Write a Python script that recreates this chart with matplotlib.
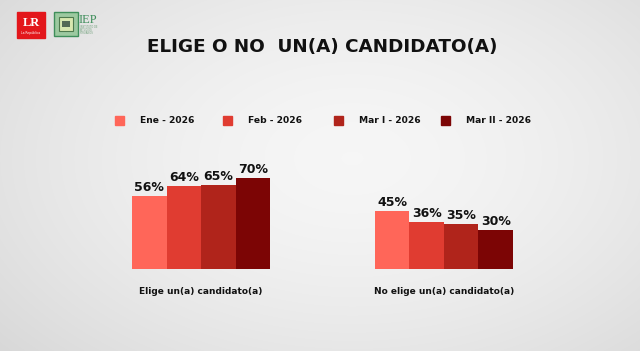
import numpy as np
import matplotlib

matplotlib.use("Agg")
import matplotlib.pyplot as plt
from matplotlib.patches import Rectangle

categories = ["Elige un(a) candidato(a)", "No elige un(a) candidato(a)"]
series = ["Ene - 2026", "Feb - 2026", "Mar I - 2026", "Mar II - 2026"]
values = {
    "Ene - 2026": [56, 45],
    "Feb - 2026": [64, 36],
    "Mar I - 2026": [65, 35],
    "Mar II - 2026": [70, 30],
}
colors = ["#FF6659", "#E03C31", "#B0241B", "#7C0505"]

W, H = 640, 351
fig = plt.figure(figsize=(W / 100, H / 100), dpi=100)

# background: soft radial grey gradient
bg = fig.add_axes([0, 0, 1, 1])
yy, xx = np.mgrid[0:H, 0:W]
r = np.sqrt(((xx - W * 0.55) / (W * 0.7)) ** 2 + ((yy - H * 0.45) / (H * 0.8)) ** 2)
shade = 0.965 - 0.11 * np.clip(r, 0, 1.2) ** 1.6
bg.imshow(np.dstack([shade] * 3), extent=[0, W, H, 0], aspect="auto")
bg.set_xlim(0, W)
bg.set_ylim(H, 0)
bg.set_axis_off()

# logos (rough)
bg.add_patch(Rectangle((17, 12), 28, 26, color="#E3161B"))
bg.text(31, 23, "LR", color="white", fontsize=9, fontweight="bold",
        family="Liberation Serif", ha="center", va="center")
bg.text(31, 33, "La República", color="white", fontsize=2.2, ha="center", va="center")
bg.add_patch(Rectangle((54, 12), 24, 24, facecolor="#9CC9A0", edgecolor="#3E8E5A", lw=1))
bg.add_patch(Rectangle((59, 17), 14, 14, facecolor="#D8E8B0", edgecolor="#4E7A4E", lw=0.8))
bg.add_patch(Rectangle((62, 21), 8, 6, facecolor="#556B55"))
bg.text(79, 20, "IEP", color="#3E8E5A", fontsize=9, family="Liberation Serif",
        ha="left", va="center")
for i, t in enumerate(["INSTITUTO DE", "ESTUDIOS", "PERUANOS"]):
    bg.text(80, 27 + i * 3.2, t, color="#6FA07A", fontsize=1.8, ha="left", va="center")

# title
bg.text(322, 47, "ELIGE O NO  UN(A) CANDIDATO(A)", fontsize=13.2, fontweight="heavy",
        family="DejaVu Sans", color="#111111", ha="center", va="center")

# legend
leg_sq = [119, 227, 338, 445]
for x0, name, c in zip(leg_sq, series, colors):
    bg.add_patch(Rectangle((x0 - 4, 116), 9, 9, color=c))
    bg.text(x0 + 21, 120.5, name, fontsize=6.6, fontweight="bold", color="#111111",
            ha="left", va="center")

# bars
ax = fig.add_axes([132 / W, 82 / H, 382 / W, 130 / H])
ax.set_xlim(0, 11.07)
ax.set_ylim(0, 100)
ax.set_axis_off()
group_left = [0, 7.04]
for gi, g0 in enumerate(group_left):
    for si, name in enumerate(series):
        v = values[name][gi]
        x = g0 + si
        ax.bar(x, v, width=1.0, align="edge", color=colors[si], linewidth=0)
        ax.text(x + 0.5, v + 1.5, f"{v}%", ha="center", va="bottom",
                fontsize=9, fontweight="bold", color="#111111")

for g0, cat in zip(group_left, categories):
    bg.text(132 + (g0 + 2) * 382 / 11.07, 291, cat, fontsize=6.5, fontweight="bold",
            color="#111111", ha="center", va="center")

fig.savefig("out.png", dpi=100)
